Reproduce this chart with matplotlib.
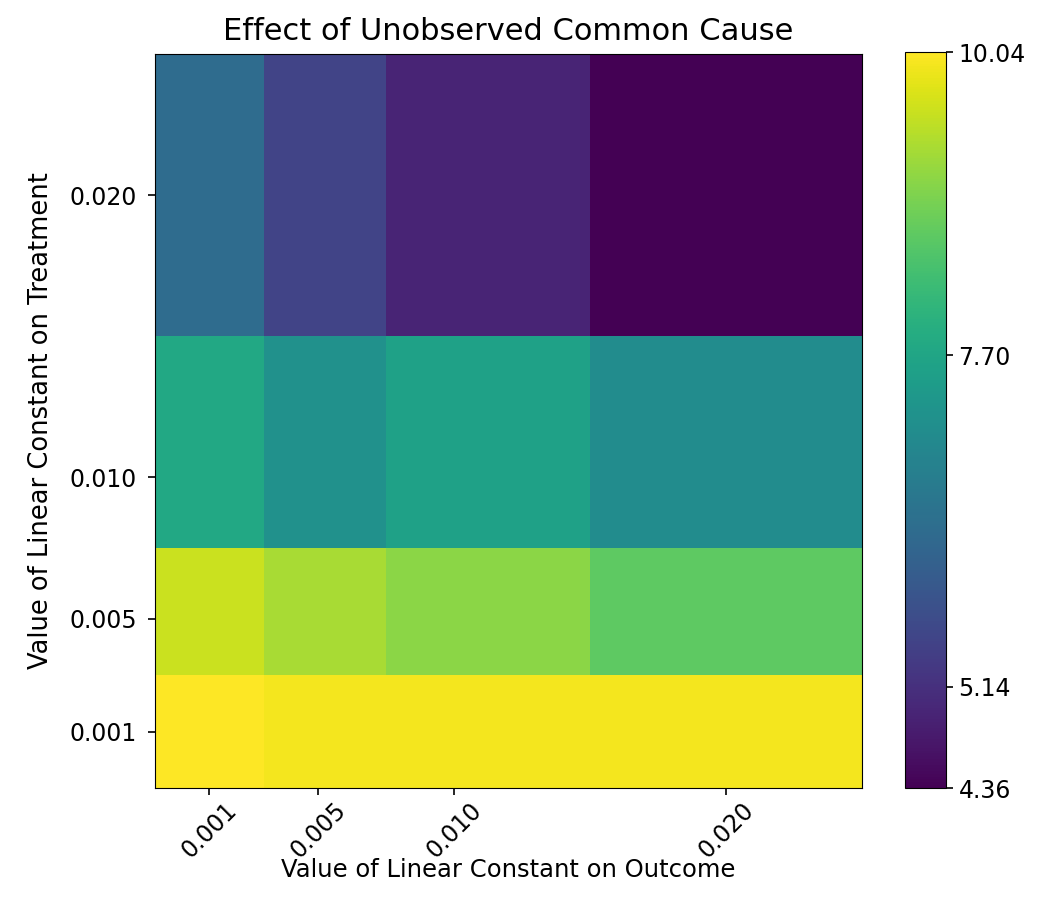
import numpy as np
import matplotlib
matplotlib.use("Agg")
import matplotlib.pyplot as plt

# Grid of linear constants used for the simulated confounder
outcome_vals = [0.001, 0.005, 0.010, 0.020]
treatment_vals = [0.001, 0.005, 0.010, 0.020]
tick_labels = ["0.001", "0.005", "0.010", "0.020"]

# Estimated effect, rows = treatment constant, cols = outcome constant
effect = np.array([
    [10.04, 9.95, 9.95, 9.95],   # 0.001
    [9.58, 9.30, 9.05, 8.62],    # 0.005
    [7.77, 7.20, 7.60, 7.10],    # 0.010
    [6.35, 5.50, 4.93, 4.36],    # 0.020
])

cbar_ticks = [4.36, 5.14, 7.70, 10.04]

fig = plt.figure(figsize=(10.56, 9.08), dpi=100)
ax = fig.add_axes([155 / 1056, 1 - 788 / 908, 707 / 1056, 734 / 908])
cax = fig.add_axes([905 / 1056, 1 - 788 / 908, 41 / 1056, 736 / 908])

mesh = ax.pcolormesh(outcome_vals, treatment_vals, effect, shading="nearest",
                     cmap="viridis", vmin=effect.min(), vmax=effect.max())

ax.tick_params(length=5, width=1.2, labelsize=17)
ax.tick_params(axis="x", pad=2)
ax.tick_params(axis="y", pad=8)
ax.set_xticks(outcome_vals)
ax.set_xticklabels(tick_labels, rotation=45)
ax.set_yticks(treatment_vals)
ax.set_yticklabels(tick_labels)
ax.set_xlabel("Value of Linear Constant on Outcome", fontsize=17.5, labelpad=-3)
ax.set_ylabel("Value of Linear Constant on Treatment", fontsize=18.5, labelpad=11)
ax.set_title("Effect of Unobserved Common Cause", fontsize=22, pad=10)

cbar = fig.colorbar(mesh, cax=cax, ticks=cbar_ticks)
cbar.ax.tick_params(length=5, width=1.2, pad=4, labelsize=17)
cbar.ax.set_yticklabels(["%.2f" % t for t in cbar_ticks])

fig.savefig("out.png", dpi=100)
